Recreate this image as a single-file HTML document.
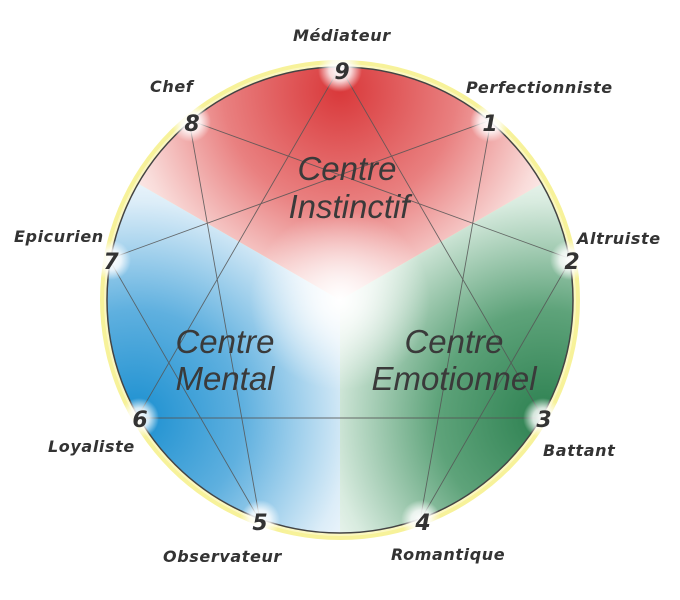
<!DOCTYPE html>
<html><head><meta charset="utf-8"><style>
html,body{margin:0;padding:0;background:#fff;width:680px;height:600px;overflow:hidden}
svg{display:block}
.n{font-family:"DejaVu Sans",sans-serif;font-weight:bold;font-style:italic;font-size:22px;fill:#333}
.l{font-family:"DejaVu Sans",sans-serif;font-weight:bold;font-style:italic;font-size:16px;letter-spacing:0.6px;fill:#333}
.c{font-family:"Liberation Sans",sans-serif;font-style:italic;font-size:33px;fill:#3a3a3a}
</style></head><body>
<svg width="680" height="600" viewBox="0 0 680 600">
<defs>
<radialGradient id="red" cx="340" cy="90" r="260" gradientUnits="userSpaceOnUse">
<stop offset="0" stop-color="#d9383a"/><stop offset="0.45" stop-color="#e98080"/><stop offset="0.8" stop-color="#f9dcda"/><stop offset="1" stop-color="#ffffff"/></radialGradient>
<radialGradient id="grn" cx="545" cy="418" r="270" gradientUnits="userSpaceOnUse">
<stop offset="0" stop-color="#2c8050"/><stop offset="0.4" stop-color="#5ea37a"/><stop offset="0.8" stop-color="#d8ebdf"/><stop offset="1" stop-color="#ffffff"/></radialGradient>
<radialGradient id="blu" cx="135" cy="418" r="270" gradientUnits="userSpaceOnUse">
<stop offset="0" stop-color="#1a8fd0"/><stop offset="0.4" stop-color="#5fb0df"/><stop offset="0.8" stop-color="#dcedf8"/><stop offset="1" stop-color="#ffffff"/></radialGradient>
<radialGradient id="ctr" cx="340" cy="300" r="90" gradientUnits="userSpaceOnUse">
<stop offset="0" stop-color="#fff" stop-opacity="1"/><stop offset="1" stop-color="#fff" stop-opacity="0"/></radialGradient>
<radialGradient id="glow"><stop offset="0" stop-color="#fff" stop-opacity="1"/><stop offset="0.5" stop-color="#fff" stop-opacity="0.8"/><stop offset="1" stop-color="#fff" stop-opacity="0"/></radialGradient>
<clipPath id="cc"><circle cx="340" cy="300" r="233"/></clipPath>
</defs>
<circle cx="340" cy="300" r="240" fill="#f7f29a"/>
<circle cx="340" cy="300" r="236" fill="#fbf7c0"/>
<g clip-path="url(#cc)">
<polygon points="340,300 -180,0 860,0" fill="url(#red)"/>
<polygon points="340,300 860,0 860,700 340,700" fill="url(#grn)"/>
<polygon points="340,300 -180,0 -180,700 340,700" fill="url(#blu)"/>
<circle cx="340" cy="300" r="90" fill="url(#ctr)"/>
</g>
<circle cx="340" cy="300" r="233" fill="none" stroke="#444" stroke-width="1.5"/>
<g stroke="#555" stroke-width="0.9" fill="none" opacity="0.85">
<polygon points="340,67 543,418 137,418"/>
<polygon points="491,120 420,521 571,259 189,120 260,521 109,259"/>
</g>
<g fill="url(#glow)">
<circle cx="340" cy="70" r="22"/><circle cx="490" cy="122" r="20"/><circle cx="570" cy="260" r="20"/>
<circle cx="543" cy="418" r="20"/><circle cx="421" cy="520" r="20"/><circle cx="260" cy="520" r="20"/>
<circle cx="139" cy="418" r="20"/><circle cx="111" cy="260" r="20"/><circle cx="191" cy="122" r="20"/>
</g>
<g class="n" text-anchor="middle">
<text x="342" y="79">9</text><text x="490" y="131">1</text><text x="572" y="269">2</text>
<text x="544" y="427">3</text><text x="423" y="530">4</text><text x="260" y="530">5</text>
<text x="140" y="427">6</text><text x="111" y="269">7</text><text x="192" y="131">8</text>
</g>
<g class="l">
<text x="293" y="41">Médiateur</text>
<text x="466" y="93">Perfectionniste</text>
<text x="577" y="244">Altruiste</text>
<text x="543" y="456">Battant</text>
<text x="391" y="560">Romantique</text>
<text x="163" y="562">Observateur</text>
<text x="48" y="452">Loyaliste</text>
<text x="14" y="242">Epicurien</text>
<text x="150" y="92">Chef</text>
</g>
<g class="c" text-anchor="middle">
<text x="347" y="180">Centre</text><text x="349" y="218">Instinctif</text>
<text x="225" y="353">Centre</text><text x="225" y="390">Mental</text>
<text x="454" y="353">Centre</text><text x="454" y="390">Emotionnel</text>
</g>
</svg>
</body></html>
